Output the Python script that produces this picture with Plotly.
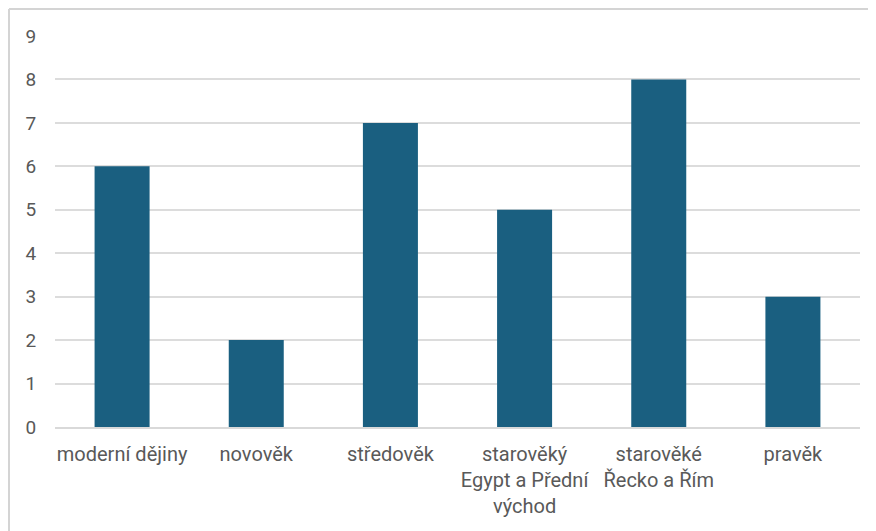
import plotly.graph_objects as go

categories = ["moderní dějiny", "novověk", "středověk",
              "starověký<br>Egypt a Přední<br>východ", "starověké<br>Řecko a Řím", "pravěk"]
values = [6, 2, 7, 5, 8, 3]
y_ticks = [0, 1, 2, 3, 4, 5, 6, 7, 8, 9]

W, H = 876, 531
ml, mr, mt, mb = 47, 24, 28, 112
pw, ph = W - ml - mr, H - mt - mb

fig = go.Figure(go.Bar(
    x=categories, y=values,
    marker=dict(color="#1a5f80", line=dict(width=0)),
    width=0.41,
))

fig.update_layout(
    width=W, height=H,
    margin=dict(l=ml, r=mr, t=mt, b=mb),
    paper_bgcolor="white", plot_bgcolor="white",
    font=dict(family="Roboto", size=20, color="#595959"),
    showlegend=False,
    xaxis=dict(showgrid=False, showline=True, linecolor="#d9d9d9", linewidth=1.5,
               ticks="outside", ticklen=8, tickcolor="rgba(0,0,0,0)",
               tickfont=dict(size=20), fixedrange=True),
    yaxis=dict(range=[0, 9], tickvals=y_ticks, showgrid=True, gridcolor="#dcdcdc",
               gridwidth=1.5, zeroline=False, showline=False,
               ticks="outside", ticklen=14, tickcolor="rgba(0,0,0,0)",
               tickfont=dict(size=19)),
    shapes=[
        dict(type="line", xref="paper", yref="paper",
             x0=(1 - ml) / pw, x1=(W - ml) / pw,
             y0=1 + (mt - 1) / ph, y1=1 + (mt - 1) / ph,
             line=dict(color="#d4d4d4", width=2)),
        dict(type="line", xref="paper", yref="paper",
             x0=(1 - ml) / pw, x1=(1 - ml) / pw,
             y0=1 + (mt - 1) / ph, y1=-mb / ph,
             line=dict(color="#d4d4d4", width=2)),
    ],
)

fig.write_html("out.html")
